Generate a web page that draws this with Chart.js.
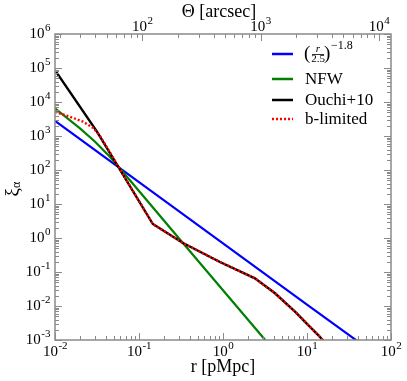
<!DOCTYPE html>
<html>
<head>
<meta charset="utf-8">
<script src="https://cdn.jsdelivr.net/npm/chart.js@4/dist/chart.umd.min.js"></script>
<style>
  html,body{margin:0;padding:0;background:#fff;}
  canvas{display:block;}
</style>
</head>
<body>
<canvas id="c" width="407" height="381"></canvas>
<script>
// ===== DATA =====
const rBlue  = [0.01, 0.1, 1, 10, 40];
const xiBlue = [2800, 44, 0.70, 0.011, 0.00092];

const rNfw  = [0.01, 0.02, 0.03, 0.0447, 0.0547, 0.1, 0.3, 1, 3.2];
const xiNfw = [6500, 1640, 676, 250, 140, 24, 0.97, 0.029, 0.00098];

const rOuchi  = [0.01, 0.0316, 0.146, 0.334, 0.92, 2.40, 4.16, 7.2, 10.35, 13.6, 15.6, 17];
const xiOuchi = [87000, 1350, 2.58, 0.71, 0.197, 0.0653, 0.0237, 0.0068, 0.00275, 0.0014, 0.00096, 0.0006];

const rBlim  = [0.01, 0.015, 0.0215, 0.0283, 0.0344, 0.146, 0.334, 0.92, 2.40, 4.16, 7.2, 10.35, 13.6, 15.6, 17];
const xiBlim = [5100, 3700, 2650, 1740, 1000, 2.58, 0.71, 0.197, 0.0653, 0.0237, 0.0068, 0.00275, 0.0014, 0.00096, 0.0006];

const xDecades  = [-2, -1, 0, 1, 2];
const yDecades  = [-3, -2, -1, 0, 1, 2, 3, 4, 5, 6];
const thDecades = [2, 3, 4];
const thMin = 18.3, thMax = 12640;

const legendNames = ['NFW', 'Ouchi+10', 'b-limited'];

// ===== STYLE =====
const SERIF = '"Liberation Serif", "DejaVu Serif", serif';
const AXC = '#8a8a8a';

function pts(xs, ys){ return xs.map((x,i)=>({x, y:ys[i]})); }
function ds(label, xs, ys, color, extra){
  return Object.assign({label, data:pts(xs,ys), borderColor:color, backgroundColor:color,
    borderWidth:2.2, pointRadius:0, tension:0, fill:false}, extra||{});
}

function pow10(ctx, e, x, y, align){
  ctx.font = '15px ' + SERIF;
  const w1 = ctx.measureText('10').width;
  ctx.font = '11px ' + SERIF;
  const es = String(e);
  const w2 = ctx.measureText(es).width;
  let x0 = align==='right' ? x - w1 - w2 : x - (w1+w2)/2;
  ctx.textAlign = 'left'; ctx.textBaseline = 'middle';
  ctx.font = '15px ' + SERIF;
  ctx.fillText('10', x0, y);
  ctx.font = '11px ' + SERIF;
  ctx.fillText(es, x0 + w1 + 0.5, y - 6);
}

function minorVals(lo, hi){
  const out = [];
  for(let e=Math.floor(Math.log10(lo)); e<=Math.ceil(Math.log10(hi)); e++){
    for(let k=2;k<=9;k++){ const v=k*Math.pow(10,e); if(v>=lo && v<=hi) out.push(v); }
  }
  return out;
}

const axesPlugin = {
  id:'axesDraw',
  afterDatasetsDraw(chart){
    const ctx = chart.ctx, a = chart.chartArea;
    const sx = chart.scales.x, sy = chart.scales.y, st = chart.scales.x2;
    ctx.save();
    // frame
    ctx.strokeStyle = AXC; ctx.lineWidth = 1.5;
    ctx.strokeRect(a.left, a.top, a.right-a.left, a.bottom-a.top);
    // ticks
    ctx.lineWidth = 1;
    const MAJ = 7, MIN = 4;
    function vt(px, y0, dir, len){ ctx.beginPath(); ctx.moveTo(Math.round(px)+0.5, y0); ctx.lineTo(Math.round(px)+0.5, y0+dir*len); ctx.stroke(); }
    function ht(py, x0, dir, len){ ctx.beginPath(); ctx.moveTo(x0, Math.round(py)+0.5); ctx.lineTo(x0+dir*len, Math.round(py)+0.5); ctx.stroke(); }
    xDecades.forEach(e=>vt(sx.getPixelForValue(Math.pow(10,e)), a.bottom, -1, MAJ));
    minorVals(0.01, 100).forEach(v=>vt(sx.getPixelForValue(v), a.bottom, -1, MIN));
    thDecades.forEach(e=>vt(st.getPixelForValue(Math.pow(10,e)), a.top, 1, MAJ));
    minorVals(thMin, thMax).forEach(v=>vt(st.getPixelForValue(v), a.top, 1, MIN));
    yDecades.forEach(e=>{ const p=sy.getPixelForValue(Math.pow(10,e)); ht(p, a.left, 1, MAJ); ht(p, a.right, -1, MAJ); });
    minorVals(1e-3, 1e6).forEach(v=>{ const p=sy.getPixelForValue(v); ht(p, a.left, 1, MIN); ht(p, a.right, -1, MIN); });

    // tick labels
    ctx.fillStyle = '#000';
    xDecades.forEach(e=>pow10(ctx, e, sx.getPixelForValue(Math.pow(10,e)), a.bottom+12, 'center'));
    thDecades.forEach(e=>pow10(ctx, e, st.getPixelForValue(Math.pow(10,e)), a.top-7, 'center'));
    yDecades.forEach(e=>pow10(ctx, e, a.left-5, sy.getPixelForValue(Math.pow(10,e)), 'right'));

    // axis titles
    ctx.font = '18px ' + SERIF; ctx.textAlign='center'; ctx.textBaseline='middle';
    ctx.fillText('r [pMpc]', (a.left+a.right)/2, a.bottom+27);
    ctx.fillText('\u0398 [arcsec]', 219, a.top-22);
    ctx.save();
    ctx.translate(13, 190); ctx.rotate(-Math.PI/2);
    ctx.font = '19px ' + SERIF; ctx.textAlign='right';
    ctx.fillText('\u03BE', 2, 0);
    ctx.font = '12px ' + SERIF; ctx.textAlign='left';
    ctx.fillText('\u03B1', 2, 4);
    ctx.restore();

    // legend
    const lx0 = 272, lx1 = 293, tx = 305;
    const rows = [
      {y:54, color:'#0000ff'},
      {y:79, color:'#008000', name:legendNames[0]},
      {y:100, color:'#000000', name:legendNames[1]},
      {y:119, color:'#ff0000', name:legendNames[2], dash:[2,2]}
    ];
    rows.forEach(r=>{
      ctx.save();
      ctx.strokeStyle = r.color; ctx.lineWidth = 2.5;
      if(r.dash) ctx.setLineDash(r.dash);
      ctx.beginPath(); ctx.moveTo(lx0, r.y); ctx.lineTo(lx1, r.y); ctx.stroke();
      ctx.restore();
      if(r.name){
        ctx.font = '17px ' + SERIF; ctx.textAlign='left'; ctx.textBaseline='middle';
        ctx.fillStyle = '#000';
        ctx.fillText(r.name, tx, r.y+1);
      }
    });
    // (r/2.5)^-1.8
    ctx.fillStyle = '#000'; ctx.textBaseline='middle';
    ctx.font = '19px ' + SERIF; ctx.textAlign='left';
    ctx.fillText('(', tx-1, 54);
    ctx.font = 'italic 11px ' + SERIF; ctx.textAlign='center';
    ctx.fillText('r', 318, 49.5);
    ctx.font = '11px ' + SERIF;
    ctx.fillText('2.5', 318, 59.5);
    ctx.strokeStyle='#000'; ctx.lineWidth=0.8;
    ctx.beginPath(); ctx.moveTo(312, 54.5); ctx.lineTo(324, 54.5); ctx.stroke();
    ctx.font = '19px ' + SERIF; ctx.textAlign='left';
    ctx.fillText(')', 324, 54);
    ctx.font = '12px ' + SERIF;
    ctx.fillText('\u22121.8', 331, 46);
    ctx.restore();
  }
};

// ===== CHART =====
new Chart(document.getElementById('c').getContext('2d'), {
  type:'line',
  data:{datasets:[
    ds('(r/2.5)^-1.8', rBlue, xiBlue, '#0000ff', {order:4}),
    ds('NFW', rNfw, xiNfw, '#008000', {order:3}),
    ds('Ouchi+10', rOuchi, xiOuchi, '#000000', {order:2, borderWidth:2.4}),
    ds('b-limited', rBlim, xiBlim, '#ff0000', {order:1, borderWidth:2.4, borderDash:[2,2]})
  ]},
  options:{
    responsive:false, animation:false, devicePixelRatio:1,
    layout:{padding:{left:55, right:16, top:34, bottom:41}},
    plugins:{legend:{display:false}, tooltip:{enabled:false}},
    scales:{
      x:{type:'logarithmic', min:0.01, max:100, display:false},
      x2:{type:'logarithmic', position:'top', min:thMin, max:thMax, display:false},
      y:{type:'logarithmic', min:1e-3, max:1e6, display:false}
    }
  },
  plugins:[axesPlugin]
});
</script>
</body>
</html>
